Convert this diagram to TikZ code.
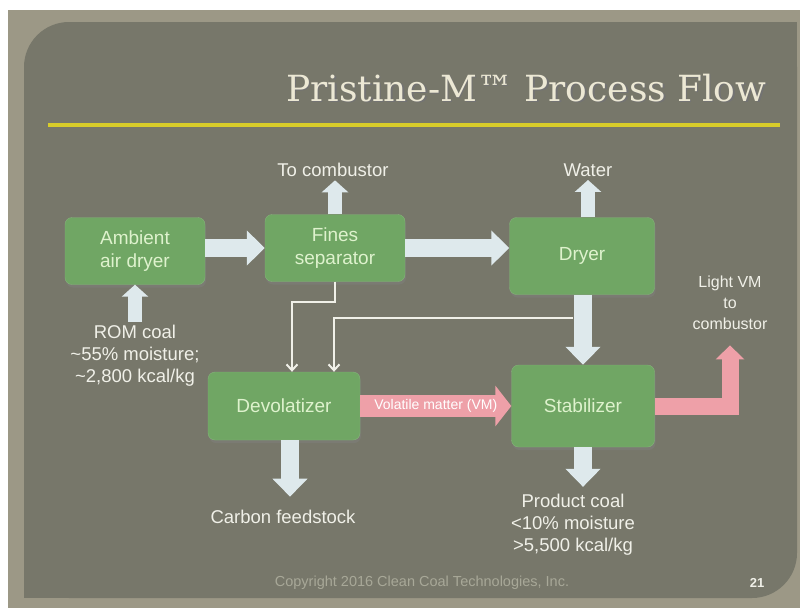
\documentclass[tikz,border=0pt]{standalone}
\usepackage{fontspec}
\setmainfont{Liberation Sans}
\newfontfamily\titlefont{DejaVu Serif}
\usetikzlibrary{arrows.meta, positioning, shadows}

\definecolor{framecol}{RGB}{156,152,134}
\definecolor{panelcol}{RGB}{119,119,106}
\definecolor{unitfill}{RGB}{112,166,100}
\definecolor{unittext}{RGB}{222,242,205}
\definecolor{flowcol}{RGB}{222,233,236}
\definecolor{vmcol}{RGB}{238,160,168}
\definecolor{labelcol}{RGB}{240,240,232}
\definecolor{titlecol}{RGB}{236,232,212}
\definecolor{rulecol}{RGB}{216,204,42}
\definecolor{footcol}{RGB}{168,168,152}

\tikzset{
  unit/.style={fill=unitfill, draw=unitfill!85!white, rounded corners=7pt,
    text=unittext, font=\fontsize{19}{23}\selectfont, align=center,
    drop shadow={shadow xshift=1pt, shadow yshift=-3pt, opacity=0.45}},
  lbl/.style={text=labelcol, font=\fontsize{18.5}{22}\selectfont, align=center},
  flowwide/.style={draw=flowcol, line width=18pt, -{Triangle[width=34pt,length=18pt]}},
  flowthin/.style={draw=flowcol, line width=14pt, -{Triangle[width=26pt,length=12pt]}},
  vmflow/.style={draw=vmcol, line width=22pt, line join=miter, -{Triangle[width=40pt,length=16pt]}},
  feed/.style={draw=labelcol, line width=2pt, -{Straight Barb[length=6pt,width=11pt]}}
}

\begin{document}
\begin{tikzpicture}[x=1pt, y=-1pt]
\useasboundingbox (0,0) rectangle (800,608);
% slide background
\fill [white] (0,0) rectangle (800,608);
\fill [framecol] (8,10) rectangle (800,608);
\fill [panelcol, rounded corners=45pt] (24,22) rectangle (797,598);
\fill [panelcol] (400,22) rectangle (797,300);
\fill [panelcol] (24,300) rectangle (400,598);
\node (titleshadow) at (771.5,89.5) [anchor=east, text=black!55, font=\titlefont\fontsize{36}{40}\selectfont] {Pristine-M™ Process Flow};
\node (title) at (770,88) [anchor=east, text=titlecol, font=\titlefont\fontsize{36}{40}\selectfont] {Pristine-M™ Process Flow};
\draw [rulecol, line width=4pt] (48,125) -- (780,125);

% process units
\node (ambient) at (135,251) [unit, minimum width=140pt, minimum height=67pt] {Ambient\\air dryer};
\node (fines) at (335,248) [unit, minimum width=140pt, minimum height=67pt] {Fines\\separator};
\node (dryer) at (582,256) [unit, minimum width=145pt, minimum height=77pt] {Dryer};
\node (devol) at (284,406) [unit, minimum width=152pt, minimum height=68pt] {Devolatizer};
\node (stab) at (583,406) [unit, minimum width=143pt, minimum height=82pt] {Stabilizer};

% streams in and out
\node (tocomb) at (333,170) [lbl] {To combustor};
\node (water) at (588,170) [lbl] {Water};
\node (rom) at (135,356) [lbl] {ROM coal\\\textasciitilde55\% moisture;\\\textasciitilde2,800 kcal/kg};
\node (carbon) at (283,517) [lbl] {Carbon feedstock};
\node (product) at (573,525) [lbl] {Product coal\\<10\% moisture\\>5,500 kcal/kg};
\node (lightvm) at (730,303) [lbl, font=\fontsize{16}{21}\selectfont] {Light VM\\to\\combustor};

% main flow
\draw [flowwide] (ambient.east |- fines.west) -- (fines.west);
\draw [flowwide] (fines.east) -- (fines.east -| dryer.west);
\draw [flowthin] (fines.north) -- (fines.north |- tocomb.south);
\draw [flowthin] (water.south |- dryer.north) -- (water.south);
\draw [flowthin] (rom.north) -- (ambient.south);
\draw [flowwide] (dryer.south -| stab.north) -- (stab.north);
\draw [flowwide] ([xshift=6pt]devol.south) -- ([xshift=6pt]devol.south |- carbon.north) [shorten >=10pt];
\draw [flowwide, shorten >=4pt] (stab.south) -- (stab.south |- product.north);

% volatile matter
\draw [vmflow] (devol.east) -- (stab.west) node [midway, text=white, font=\fontsize{14}{15}\selectfont] {Volatile matter (VM)};
\draw [vmflow, line width=17pt, -{Triangle[width=28pt,length=14pt]}, shorten >=12pt] (stab.east) -| (lightvm.south);

% fines and dryer return lines
\coordinate (tap) at (573,318);
\draw [feed] (fines.south) -- ++(0,20) -| ([xshift=8pt]devol.north);
\draw [feed] (tap) -| ([xshift=50pt]devol.north);

% footer
\node (copy) at (422,583) [text=footcol, font=\fontsize{14.5}{16}\selectfont] {Copyright 2016 Clean Coal Technologies, Inc.};
\node (page) at (757,583) [text=labelcol, font=\bfseries\fontsize{13}{14}\selectfont] {21};
\end{tikzpicture}
\end{document}
